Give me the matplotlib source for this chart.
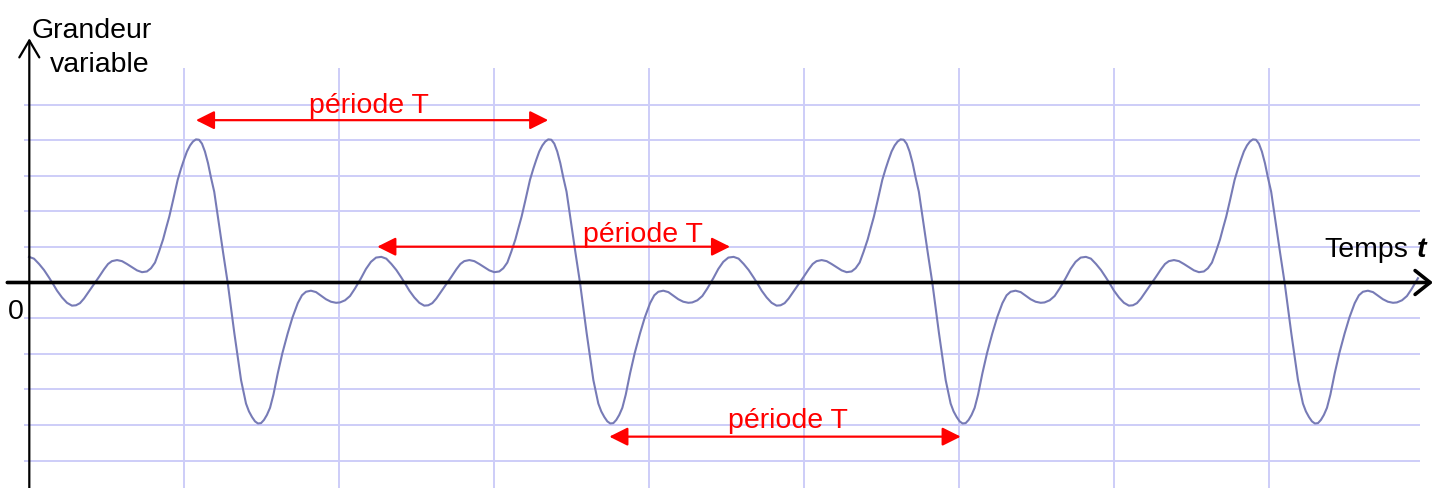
#! /usr/bin/env python3
# Periodic signal with its period T marked three times.

import numpy as np
import matplotlib.pyplot as plt

# one period of the curve (t in grid squares, value in grid squares)
phase_t = [0.000, 0.032, 0.065, 0.097, 0.129, 0.155, 0.181, 0.213, 0.245, 0.277,
           0.303, 0.329, 0.355, 0.387, 0.419, 0.452, 0.484, 0.510, 0.535, 0.568,
           0.600, 0.632, 0.665, 0.697, 0.729, 0.761, 0.787, 0.813, 0.839, 0.865,
           0.884, 0.905, 0.929, 0.959, 0.981, 1.000, 1.019, 1.039, 1.058, 1.077,
           1.097, 1.116, 1.135, 1.155, 1.174, 1.195, 1.226, 1.252, 1.282, 1.325,
           1.368, 1.400, 1.419, 1.439, 1.458, 1.477, 1.497, 1.516, 1.535, 1.555,
           1.577, 1.605, 1.635, 1.669, 1.700, 1.734, 1.761, 1.787, 1.819, 1.852,
           1.884, 1.916, 1.948, 1.981, 2.006, 2.039, 2.071, 2.103, 2.142, 2.174,
           2.206, 2.239]
phase_val = [0.72, 0.67, 0.52, 0.35, 0.14, -0.04, -0.23, -0.42, -0.57, -0.65,
             -0.64, -0.58, -0.45, -0.25, -0.05, 0.16, 0.37, 0.52, 0.60, 0.63,
             0.60, 0.52, 0.43, 0.34, 0.29, 0.31, 0.40, 0.56, 0.87, 1.21,
             1.52, 1.85, 2.30, 2.88, 3.20, 3.45, 3.68, 3.85, 3.96, 4.02,
             4.01, 3.90, 3.68, 3.35, 2.95, 2.55, 1.62, 0.85, -0.01, -1.43,
             -2.74, -3.40, -3.62, -3.78, -3.90, -3.96, -3.95, -3.86, -3.72, -3.52,
             -3.15, -2.55, -1.98, -1.43, -0.98, -0.58, -0.36, -0.26, -0.23, -0.27,
             -0.37, -0.47, -0.54, -0.57, -0.56, -0.50, -0.38, -0.17, 0.12, 0.38,
             0.58, 0.70]
period = 2.273
n_periods = 4
t_end = 8.974

grid_t = [1, 2, 3, 4, 5, 6, 7, 8]
grid_v = [-5, -4, -3, -2, -1, 1, 2, 3, 4, 5]

# (t start, t end, level, label x, label baseline)
arrows = [(1.077, 3.350, 4.56, 2.19, 4.75),
          (2.247, 4.523, 1.006, 3.961, 1.146),
          (3.744, 6.011, -4.33, 4.899, -4.096)]

FONT = "Liberation Sans"
GRID = "#cdcdf8"
CURVE = "#777bb6"


def main():
    fig = plt.figure(figsize=(14.35, 4.88), dpi=100)
    ax = fig.add_axes([0, 0, 1, 1])
    ax.set_xlim(-29 / 155, (1435 - 29) / 155)
    ax.set_ylim((282.5 - 488) / 35.6, 282.5 / 35.6)
    ax.axis("off")

    # paper grid
    ax.hlines(grid_v, -0.03, t_end, color=GRID, lw=1.4, zorder=1)
    ax.vlines(grid_t, -6, 6.03, color=GRID, lw=1.4, zorder=1)

    # the signal, one read period repeated
    t = np.concatenate([np.array(phase_t) + k * period for k in range(n_periods)])
    v = np.tile(phase_val, n_periods)
    keep = t <= t_end
    ax.plot(t[keep], v[keep], color=CURVE, lw=1.5, zorder=2)

    # axes with open arrow heads
    ax.annotate("", xy=(9.058, 0), xytext=(-0.14, 0),
                arrowprops=dict(arrowstyle="->,head_length=0.54,head_width=0.43",
                                lw=2.6, color="black", shrinkA=0, shrinkB=0,
                                mutation_scale=20), zorder=3)
    ax.annotate("", xy=(0.002, 6.86), xytext=(0.002, -5.9),
                arrowprops=dict(arrowstyle="->,head_length=0.61,head_width=0.36",
                                lw=1.6, color="black", shrinkA=0, shrinkB=0,
                                mutation_scale=20), zorder=3)

    # period markers
    for t0, t1, lev, tx, ty in arrows:
        ax.annotate("", xy=(t1, lev), xytext=(t0, lev),
                    arrowprops=dict(arrowstyle="<|-|>", lw=1.6, color="red",
                                    shrinkA=0, shrinkB=0, mutation_scale=28),
                    zorder=4)
        ax.text(tx, ty, "période T", color="red", fontsize=20.5, family=FONT,
                ha="center", va="baseline", zorder=5)

    ax.text(0.0174, 6.876, "Grandeur", fontsize=20.5, family=FONT,
            ha="left", va="baseline")
    ax.text(0.135, 5.921, "variable", fontsize=20.5, family=FONT,
            ha="left", va="baseline")
    ax.text(8.90, 0.725, "Temps", fontsize=20.5, family=FONT,
            ha="right", va="baseline")
    ax.text(8.955, 0.725, "t", fontsize=20.5, family=FONT, weight="bold",
            style="italic", ha="left", va="baseline")
    ax.text(-0.0858, -1.034, "0", fontsize=20.5, family=FONT,
            ha="center", va="baseline")

    fig.savefig("out.png", dpi=100)


if __name__ == "__main__":
    main()
